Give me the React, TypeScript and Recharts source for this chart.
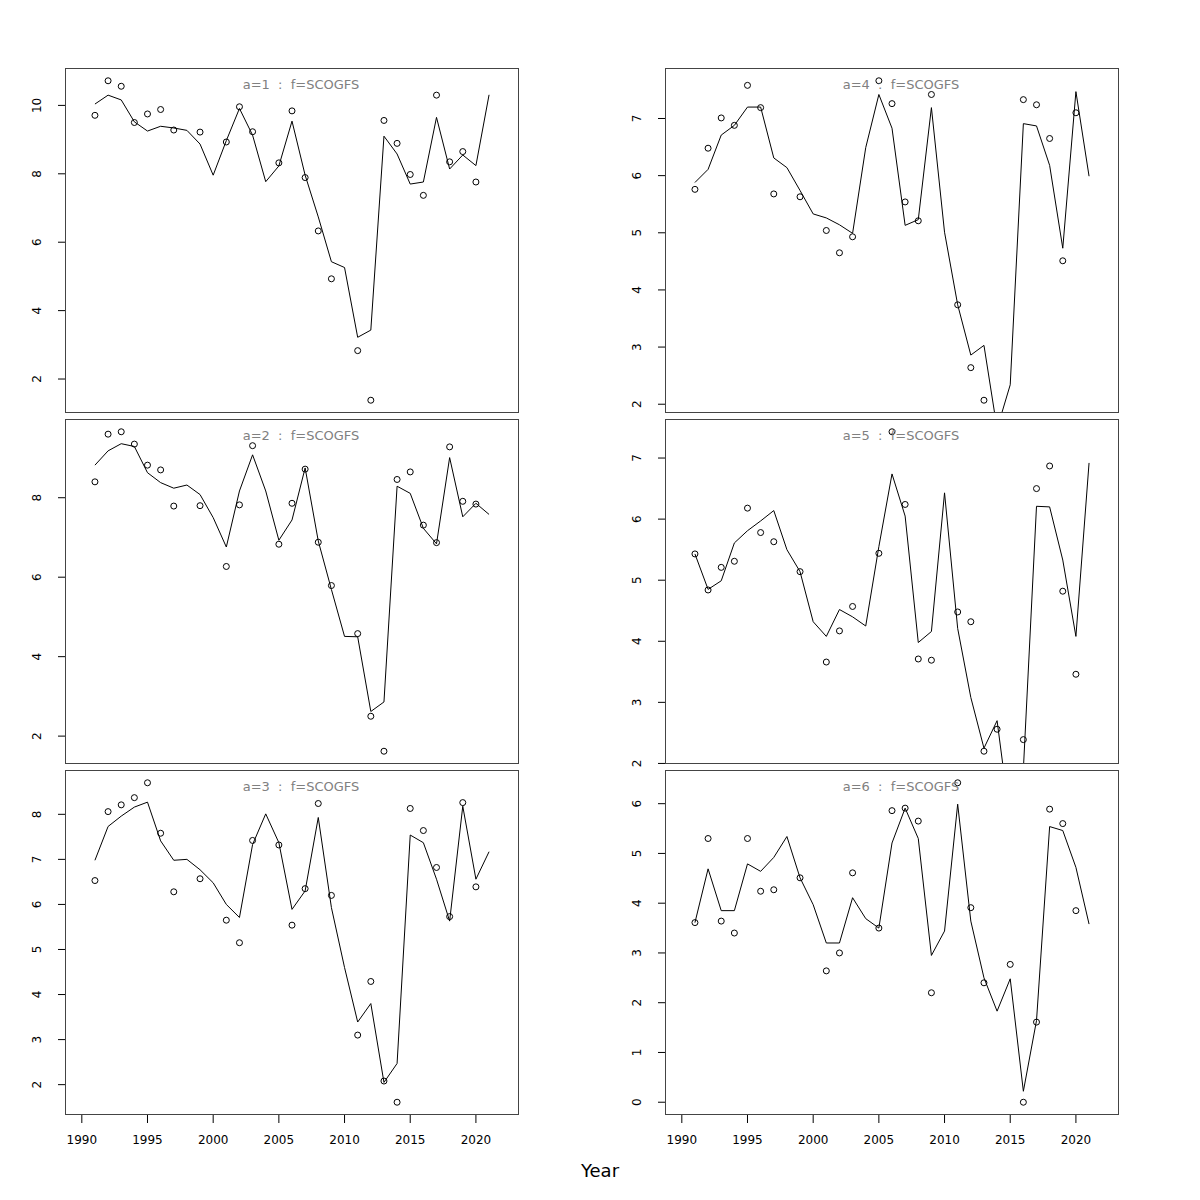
import { ComposedChart, Line, XAxis, YAxis } from 'recharts'

const years = [1991, 1992, 1993, 1994, 1995, 1996, 1997, 1998, 1999, 2000, 2001, 2002, 2003, 2004, 2005, 2006, 2007, 2008, 2009, 2010, 2011, 2012, 2013, 2014, 2015, 2016, 2017, 2018, 2019, 2020, 2021]
const xRange = [1990, 2022]
const xTicks = [1990, 1995, 2000, 2005, 2010, 2015, 2020]

// fitted (line) and observed (circles) per age
const fit1 = [10.04, 10.3, 10.16, 9.52, 9.25, 9.39, 9.34, 9.27, 8.87, 7.96, 8.97, 9.91, 9.13, 7.77, 8.23, 9.54, 7.96, 6.74, 5.43, 5.26, 3.22, 3.43, 9.1, 8.58, 7.7, 7.76, 9.65, 8.14, 8.55, 8.24, 10.31]
const obs1 = [9.71, 10.72, 10.56, 9.5, 9.75, 9.88, 9.28, null, 9.22, null, 8.93, 9.96, 9.23, null, 8.32, 9.84, 7.89, 6.33, 4.93, null, 2.83, 1.38, 9.56, 8.89, 7.98, 7.37, 10.3, 8.35, 8.65, 7.76, null]
const fit2 = [8.82, 9.18, 9.36, 9.29, 8.63, 8.38, 8.24, 8.32, 8.08, 7.5, 6.76, 8.17, 9.08, 8.17, 6.93, 7.44, 8.75, 6.91, 5.69, 4.51, 4.5, 2.62, 2.86, 8.29, 8.11, 7.23, 6.84, 9.01, 7.52, 7.86, 7.58]
const obs2 = [8.4, 9.6, 9.66, 9.35, 8.82, 8.7, 7.79, null, 7.8, null, 6.27, 7.82, 9.31, null, 6.83, 7.86, 8.72, 6.88, 5.79, null, 4.58, 2.5, 1.62, 8.46, 8.65, 7.31, 6.87, 9.28, 7.91, 7.84, null]
const fit3 = [6.98, 7.73, 7.96, 8.16, 8.27, 7.41, 6.98, 7.0, 6.77, 6.48, 6.0, 5.71, 7.33, 8.01, 7.37, 5.89, 6.3, 7.93, 5.93, 4.6, 3.39, 3.8, 2.05, 2.47, 7.54, 7.37, 6.56, 5.63, 8.18, 6.56, 7.17]
const obs3 = [6.53, 8.06, 8.21, 8.37, 8.7, 7.58, 6.28, null, 6.57, null, 5.65, 5.15, 7.42, null, 7.32, 5.54, 6.35, 8.24, 6.2, null, 3.1, 4.29, 2.08, 1.61, 8.13, 7.64, 6.82, 5.73, 8.26, 6.39, null]
const fit4 = [5.88, 6.11, 6.71, 6.88, 7.2, 7.2, 6.31, 6.14, 5.74, 5.33, 5.26, 5.14, 4.99, 6.49, 7.42, 6.83, 5.13, 5.23, 7.19, 5.01, 3.74, 2.86, 3.03, 1.57, 2.34, 6.91, 6.87, 6.18, 4.73, 7.47, 5.99]
const obs4 = [5.76, 6.48, 7.01, 6.88, 7.58, 7.19, 5.68, null, 5.63, null, 5.04, 4.65, 4.93, null, 7.66, 7.26, 5.54, 5.21, 7.42, null, 3.74, 2.64, 2.07, null, null, 7.33, 7.24, 6.65, 4.51, 7.1, null]
const fit5 = [5.43, 4.85, 4.99, 5.61, 5.81, 5.97, 6.14, 5.5, 5.14, 4.32, 4.08, 4.52, 4.4, 4.25, 5.55, 6.74, 6.05, 3.98, 4.16, 6.43, 4.21, 3.08, 2.25, 2.7, 1.05, 1.9, 6.21, 6.2, 5.33, 4.08, 6.92]
const obs5 = [5.43, 4.84, 5.21, 5.31, 6.18, 5.78, 5.63, null, 5.14, null, 3.66, 4.17, 4.57, null, 5.44, 7.43, 6.24, 3.71, 3.69, null, 4.48, 4.32, 2.2, 2.56, null, 2.39, 6.5, 6.87, 4.82, 3.46, null]
const fit6 = [3.61, 4.69, 3.85, 3.85, 4.79, 4.64, 4.92, 5.34, 4.51, 3.97, 3.2, 3.2, 4.11, 3.69, 3.5, 5.21, 5.91, 5.3, 2.95, 3.44, 5.99, 3.64, 2.5, 1.83, 2.48, 0.22, 1.64, 5.54, 5.46, 4.72, 3.58]
const obs6 = [3.61, 5.3, 3.64, 3.4, 5.3, 4.24, 4.27, null, 4.51, null, 2.64, 3.0, 4.61, null, 3.5, 5.86, 5.91, 5.65, 2.2, null, 6.42, 3.91, 2.4, null, 2.77, 0.0, 1.61, 5.89, 5.6, 3.85, null]

const yTicks1 = [2, 4, 6, 8, 10]
const yTicks2 = [2, 4, 6, 8]
const yTicks3 = [2, 3, 4, 5, 6, 7, 8]
const yTicks4 = [2, 3, 4, 5, 6, 7]
const yTicks5 = [2, 3, 4, 5, 6, 7]
const yTicks6 = [0, 1, 2, 3, 4, 5, 6]

const labels = ['a=1  :  f=SCOGFS', 'a=2  :  f=SCOGFS', 'a=3  :  f=SCOGFS', 'a=4  :  f=SCOGFS', 'a=5  :  f=SCOGFS', 'a=6  :  f=SCOGFS']

const FONT = '"DejaVu Sans", sans-serif'
const PW = 454
const PH = 345
const COL_X = [65, 665]
const ROW_Y = [68, 419, 770]

// R-style 4% padding
const pad = (lo: number, hi: number): [number, number] => {
  const p = (hi - lo) * 0.04
  return [lo - p, hi + p]
}

const XTick = (props: any) => (
  <text x={props.x} y={props.y + 19} textAnchor="middle" fontSize={12} fontFamily={FONT} fill="#000">
    {props.payload.value}
  </text>
)

const YTick = (props: any) => {
  const x = props.x - 15
  return (
    <text x={x} y={props.y} transform={`rotate(-90 ${x} ${props.y})`} textAnchor="middle" fontSize={12} fontFamily={FONT} fill="#000">
      {props.payload.value}
    </text>
  )
}

function Panel({ left, top, fit, obs, yTicks, showX }: { left: number; top: number; fit: number[]; obs: (number | null)[]; yTicks: number[]; showX: boolean }) {
  const data = years.map((year, i) => ({ year, fit: fit[i], obs: obs[i] }))
  const vals = obs.filter((v): v is number => v != null)
  const yDomain = pad(Math.min(...vals), Math.max(...vals))
  return (
    <div style={{ position: 'absolute', left: left - 40, top: top - 5 }}>
      <ComposedChart width={PW + 45} height={PH + 10 + (showX ? 40 : 0)} data={data} margin={{ top: 5, right: 5, bottom: 5, left: 0 }}>
        <XAxis type="number" dataKey="year" domain={pad(xRange[0], xRange[1])} ticks={xTicks} allowDataOverflow hide={!showX}
          height={40} axisLine={false} tickLine={{ stroke: '#000' }} tickSize={8} tick={XTick} interval={0} />
        <YAxis type="number" domain={yDomain} ticks={yTicks} allowDataOverflow width={40}
          axisLine={false} tickLine={{ stroke: '#000' }} tickSize={7} tick={YTick} interval={0} />
        <Line dataKey="fit" stroke="#000" strokeWidth={1} dot={false} isAnimationActive={false} />
        <Line dataKey="obs" stroke="none" dot={{ r: 3, stroke: '#000', strokeWidth: 1, fill: 'none' }} activeDot={false} isAnimationActive={false} />
      </ComposedChart>
      <div style={{ position: 'absolute', left: 40, top: 5, width: PW, height: PH, border: '1px solid #444', boxSizing: 'border-box', pointerEvents: 'none' }} />
    </div>
  )
}

export default function App() {
  const panels = [
    { fit: fit1, obs: obs1, yTicks: yTicks1 },
    { fit: fit2, obs: obs2, yTicks: yTicks2 },
    { fit: fit3, obs: obs3, yTicks: yTicks3 },
    { fit: fit4, obs: obs4, yTicks: yTicks4 },
    { fit: fit5, obs: obs5, yTicks: yTicks5 },
    { fit: fit6, obs: obs6, yTicks: yTicks6 },
  ]
  return (
    <div style={{ position: 'absolute', left: 0, top: 0, width: 1200, height: 1200, background: '#fff' }}>
      {panels.map((p, i) => {
        const col = Math.floor(i / 3)
        const row = i % 3
        return <Panel key={i} left={COL_X[col]} top={ROW_Y[row]} fit={p.fit} obs={p.obs} yTicks={p.yTicks} showX={row === 2} />
      })}
      <svg width={1200} height={1200} style={{ position: 'absolute', left: 0, top: 0, pointerEvents: 'none' }}>
        {labels.map((t, i) => {
          const col = Math.floor(i / 3)
          const row = i % 3
          return (
            <text key={t} x={COL_X[col] + 236} y={ROW_Y[row] + 21} textAnchor="middle" fontSize={13} fontFamily={FONT} fill="#808080" style={{ whiteSpace: 'pre' }}>
              {t}
            </text>
          )
        })}
        <text x={600} y={1177} textAnchor="middle" fontSize={18} fontFamily={FONT} fill="#000">Year</text>
      </svg>
    </div>
  )
}
